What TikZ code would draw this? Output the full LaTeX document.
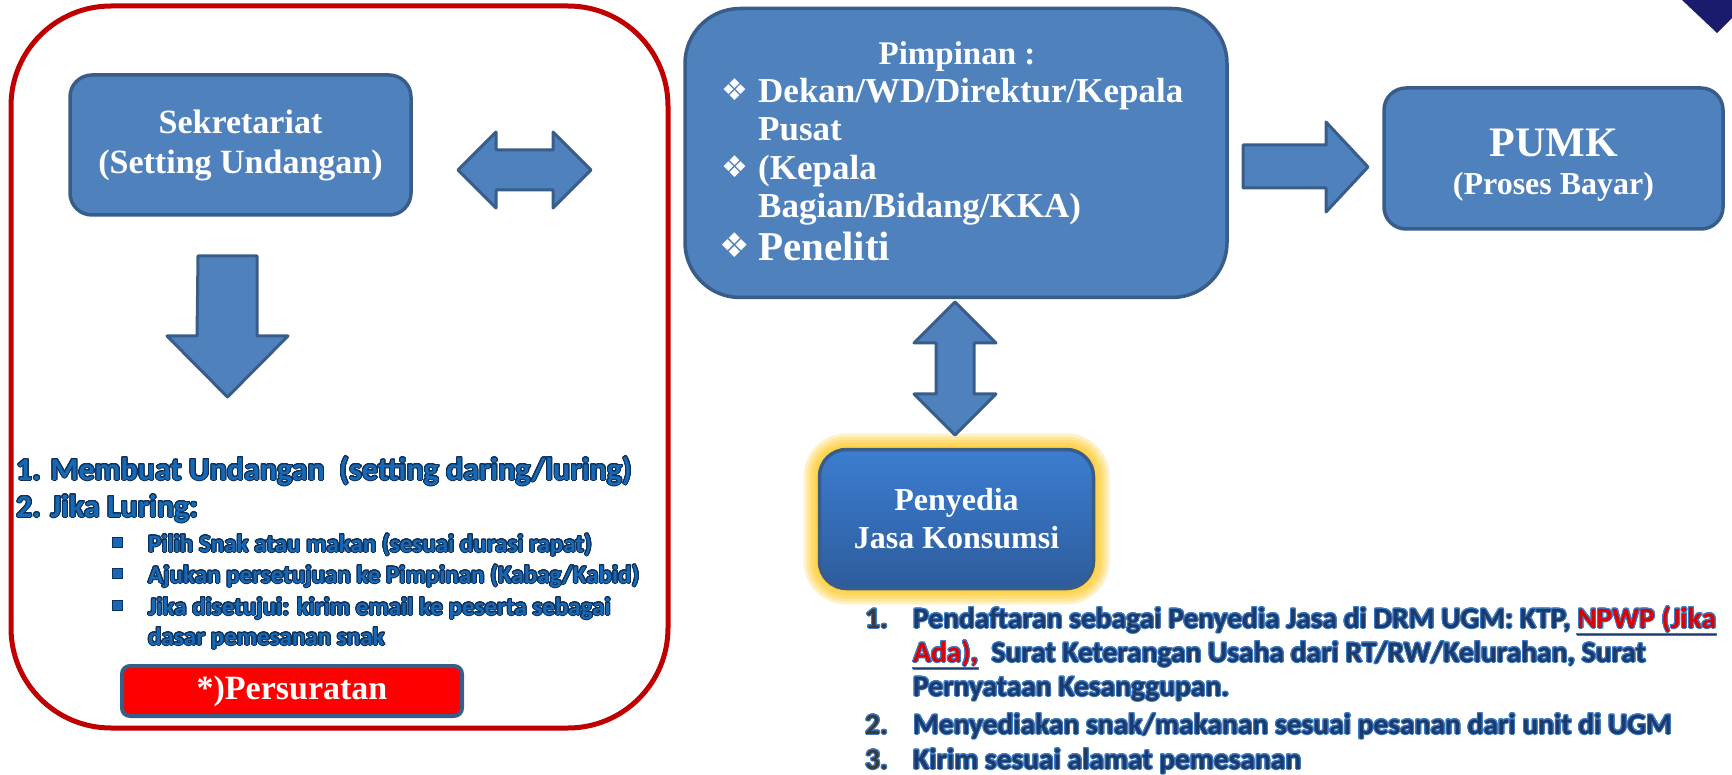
\documentclass[tikz,border=0pt]{standalone}
\usepackage{fontspec}
\setmainfont{Liberation Serif}
\newfontfamily\bodyfont{Carlito}
\newfontfamily\dingfont{DejaVu Sans}
\usepackage{contour}
\contourlength{1pt}
\contournumber{24}
\definecolor{boxblue}{HTML}{4F81BD}
\definecolor{boxline}{HTML}{385D8A}
\definecolor{framered}{HTML}{C00000}
\definecolor{listblue}{HTML}{1768B5}
\definecolor{listdark}{HTML}{0E2F57}
\definecolor{navytext}{HTML}{1C3A6B}
\definecolor{outlineblue}{HTML}{3D7CC4}
\definecolor{numgray}{HTML}{3A3A3A}
\definecolor{npwpred}{HTML}{E00000}
\definecolor{glow}{HTML}{FFC000}
\definecolor{jasatop}{HTML}{3C7DD0}
\definecolor{jasabottom}{HTML}{2D5C9C}
\definecolor{cornernavy}{HTML}{1B1B6E}
\newcommand{\fsz}[2]{\fontsize{#1}{#2}\selectfont}
\newcommand{\bul}{\makebox[35pt][l]{\rule[5pt]{9pt}{9pt}}}
\begin{document}
\begin{tikzpicture}[x=1pt, y=-1pt,
  box/.style={rounded corners=#1, fill=boxblue, draw=boxline, line width=3.5pt},
  box/.default=22pt,
  blockarrow/.style={fill=boxblue, draw=boxline, line width=3pt, line join=round},
  title/.style={text=white, font=\bfseries\fsz{34}{40}, align=center, inner sep=0pt},
  pimtext/.style={anchor=base west, text=white, font=\bfseries\fsz{35}{35}, inner sep=0pt},
  ding/.style={anchor=base, text=white, font=\dingfont\fsz{30}{30}, inner sep=0pt},
  leftlist/.style={anchor=base west, text=listblue, inner sep=0pt},
  rightlist/.style={anchor=base west, text=navytext, font=\bodyfont\bfseries\fsz{29.5}{29.5}, inner sep=0pt}]
\useasboundingbox (0,0) rectangle (1732,775);
% corner of the slide
\fill[cornernavy] (1682,0) -- (1717,33) -- (1732,18) -- (1732,0) -- cycle;
% red frame round the secretariat part
\node[draw=framered, line width=5pt, rounded corners=100pt, minimum width=657pt, minimum height=722pt] (frame) at (339.5,367) {};
\node[box, minimum width=341pt, minimum height=140pt, title] (sek) at (240.5,145) {Sekretariat\\(Setting Undangan)};
\node[box=55pt, minimum width=542pt, minimum height=289pt] (pim) at (956,153) {};
\node[box, minimum width=339pt, minimum height=141pt] (pumk) at (1553.5,158.5) {};
% glow of the provider box
\foreach \g in {16,13,10,7,4}
  \node[fill=glow, opacity=0.22, rounded corners={27+\g}, minimum width={274+2*\g}, minimum height={139+2*\g}] at (956.5,519) {};
\node[rounded corners=27pt, top color=jasatop, bottom color=jasabottom, draw=boxline, line width=3.5pt, minimum width=274pt, minimum height=139pt] (jasa) at (956.5,519) {};
\node[fill=red, draw=boxline, line width=4pt, rounded corners=8pt, minimum width=340pt, minimum height=50pt, title] (surat) at (292,691) {*)Persuratan};
% texts in the boxes
\node[title, anchor=base, font=\bfseries\fsz{33}{33}] (pimT) at (957,65) {Pimpinan :};
\node[pimtext] (pim1) at (758,103) {Dekan/WD/Direktur/Kepala};
\node[pimtext] (pim2) at (758,141) {Pusat};
\node[pimtext] (pim3) at (758,180) {(Kepala};
\node[pimtext] (pim4) at (758,218) {Bagian/Bidang/KKA)};
\node[pimtext, font=\bfseries\fsz{41}{41}] (pim5) at (758,261) {Peneliti};
\node[ding] (d1) at (735,101) {❖};
\node[ding] (d2) at (735,178) {❖};
\node[ding, font=\dingfont\fsz{34}{34}] (d3) at (735,258) {❖};
\node[title, anchor=base, font=\bfseries\fsz{42}{42}] (pumkA) at (1553.5,157) {PUMK};
\node[title, anchor=base, font=\bfseries\fsz{32}{32}] (pumkB) at (1553.5,195) {(Proses Bayar)};
\node[title, anchor=base, font=\bfseries\fsz{32}{32}] (jasaA) at (956.5,510) {Penyedia};
\node[title, anchor=base, font=\bfseries\fsz{32}{32}] (jasaB) at (956.5,548) {Jasa Konsumsi};
% block arrows
\coordinate (hL) at (458,170);
\draw[blockarrow] (hL) -- ++(38,-38) -- ++(0,18) -- ++(57,0) -- ++(0,-18) -- ++(38,38)
  -- ++(-38,38) -- ++(0,-18) -- ++(-57,0) -- ++(0,18) -- cycle;
\coordinate (vT) at (955,302);
\draw[blockarrow] (vT) -- ++(41,41) -- ++(-22,0) -- ++(0,51) -- ++(22,0) -- ++(-41,41)
  -- ++(-41,-41) -- ++(22,0) -- ++(0,-51) -- ++(-22,0) -- cycle;
\coordinate (dT) at (198,256);
\draw[blockarrow] (dT) -- ++(59,0) -- ++(0,80) -- ++(31,0) -- ++(-60.5,61) -- ++(-60.5,-61)
  -- ++(30,0) -- cycle;
\coordinate (rL) at (1243,145);
\draw[blockarrow] (rL) -- ++(83,0) -- ++(0,-23) -- ++(42,45) -- ++(-42,45) -- ++(0,-24)
  -- ++(-83,0) -- cycle;
% list of the secretariat
\node[leftlist, font=\bodyfont\bfseries\fsz{32}{32}] (l1) at (16,480) {\contour{listdark}{1. Membuat Undangan\ \ (setting daring/luring)}};
\node[leftlist, font=\bodyfont\bfseries\fsz{32}{32}] (l2) at (16,517) {\contour{listdark}{2. Jika Luring:}};
\node[leftlist, font=\bodyfont\bfseries\fsz{25}{25}] (b1) at (113,552) {\contour{listdark}{\bul Pilih Snak atau makan (sesuai durasi rapat)}};
\node[leftlist, font=\bodyfont\bfseries\fsz{25}{25}] (b2) at (113,583) {\contour{listdark}{\bul Ajukan persetujuan ke Pimpinan (Kabag/Kabid)}};
\node[leftlist, font=\bodyfont\bfseries\fsz{25}{25}] (b3) at (113,615) {\contour{listdark}{\bul Jika disetujui: kirim email ke peserta sebagai}};
\node[leftlist, font=\bodyfont\bfseries\fsz{25}{25}] (b4) at (148,645) {\contour{listdark}{dasar pemesanan snak}};
% list of the provider
\node[rightlist, text=numgray] (n1) at (865,628) {\contour{outlineblue}{1.}};
\node[rightlist] (r1) at (913,628) {\contour{outlineblue}{Pendaftaran sebagai Penyedia Jasa di DRM UGM: KTP, \underline{\textcolor{npwpred}{NPWP (Jika}}}};
\node[rightlist] (r2) at (913,662) {\contour{outlineblue}{\underline{\textcolor{npwpred}{Ada),}}\ \ Surat Keterangan Usaha dari RT/RW/Kelurahan, Surat}};
\node[rightlist] (r3) at (913,696) {\contour{outlineblue}{Pernyataan Kesanggupan.}};
\node[rightlist, text=numgray] (n2) at (865,734) {\contour{outlineblue}{2.}};
\node[rightlist] (r4) at (913,734) {\contour{outlineblue}{Menyediakan snak/makanan sesuai pesanan dari unit di UGM}};
\node[rightlist, text=numgray] (n3) at (865,769) {\contour{outlineblue}{3.}};
\node[rightlist] (r5) at (913,769) {\contour{outlineblue}{Kirim sesuai alamat pemesanan}};
\end{tikzpicture}
\end{document}
